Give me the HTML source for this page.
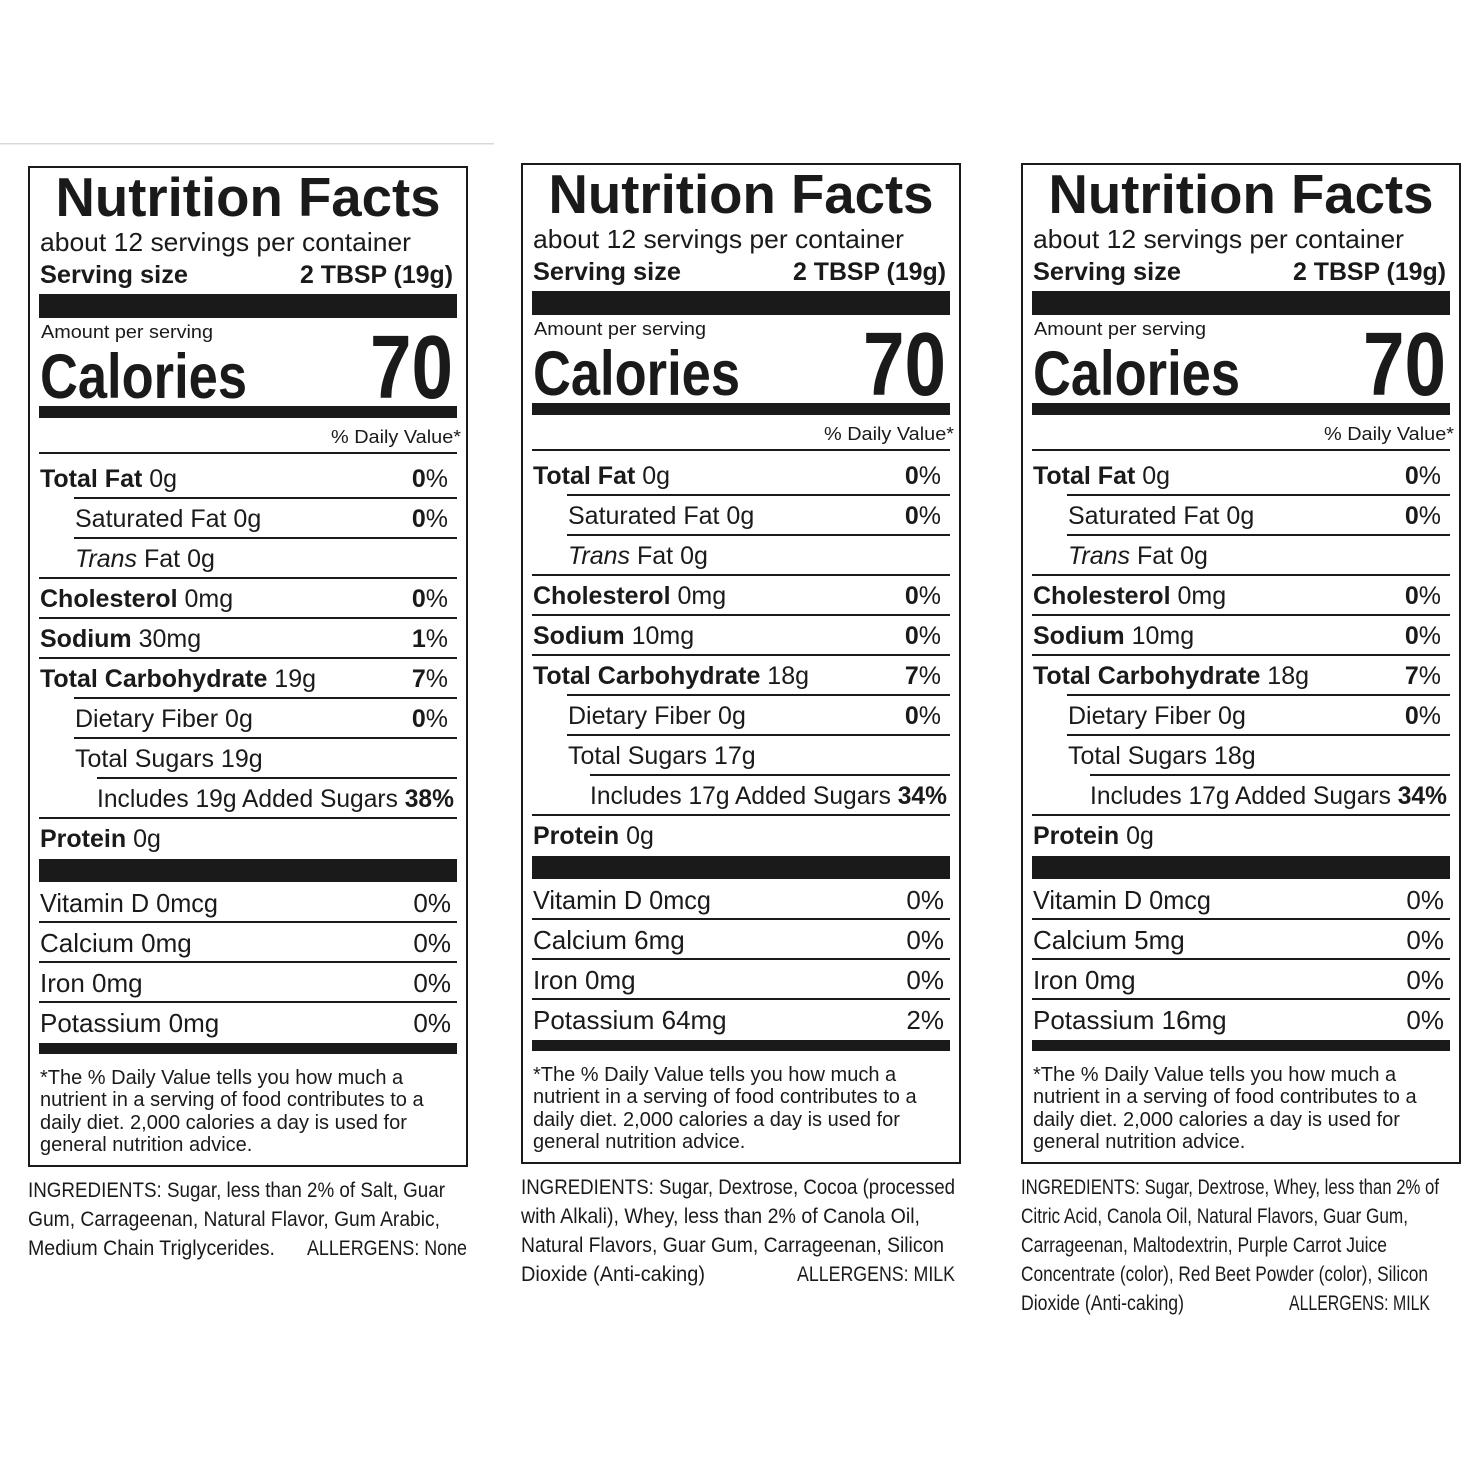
<!DOCTYPE html>
<html><head><meta charset="utf-8"><style>html,body{margin:0;padding:0;background:#fff}svg{display:block}</style></head>
<body>
<svg width="1464" height="1464" viewBox="0 0 1464 1464" xmlns="http://www.w3.org/2000/svg" font-family="Liberation Sans, Arial, sans-serif" fill="#1a1a1a">
<rect x="0" y="143" width="494" height="1.5" fill="#d8d8d8"/>
<defs>
<g id="frame">
<rect x="29" y="167" width="438" height="999" fill="none" stroke="#1a1a1a" stroke-width="2"/>
<text x="248" y="216" font-size="55" font-weight="bold" text-anchor="middle" textLength="385" lengthAdjust="spacingAndGlyphs">Nutrition Facts</text>
<text x="40" y="251" font-size="26" textLength="371" lengthAdjust="spacingAndGlyphs">about 12 servings per container</text>
<text x="40" y="283" font-size="25" font-weight="bold" textLength="148" lengthAdjust="spacingAndGlyphs">Serving size</text>
<text x="453" y="283" font-size="25" font-weight="bold" text-anchor="end" textLength="153" lengthAdjust="spacingAndGlyphs">2 TBSP (19g)</text>
<rect x="39" y="294" width="418" height="24"/>
<text x="41" y="338" font-size="18" textLength="172" lengthAdjust="spacingAndGlyphs">Amount per serving</text>
<text x="40" y="398" font-size="63" font-weight="bold" textLength="207" lengthAdjust="spacingAndGlyphs">Calories</text>
<text x="453" y="398" font-size="90" font-weight="bold" text-anchor="end" textLength="83" lengthAdjust="spacingAndGlyphs">70</text>
<rect x="39" y="406" width="418" height="12"/>
<text x="461" y="443" font-size="18" text-anchor="end" textLength="130" lengthAdjust="spacingAndGlyphs">% Daily Value*</text>
<rect x="39" y="452" width="418" height="2"/>
<rect x="74" y="497" width="383" height="2"/>
<rect x="74" y="537" width="383" height="2"/>
<rect x="39" y="577" width="418" height="2"/>
<rect x="39" y="617" width="418" height="2"/>
<rect x="39" y="657" width="418" height="2"/>
<rect x="74" y="697" width="383" height="2"/>
<rect x="74" y="737" width="383" height="2"/>
<rect x="97" y="777" width="360" height="2"/>
<rect x="39" y="817" width="418" height="2"/>
<rect x="39" y="859" width="418" height="23"/>
<rect x="39" y="921" width="418" height="2"/>
<rect x="39" y="961" width="418" height="2"/>
<rect x="39" y="1001" width="418" height="2"/>
<rect x="39" y="1043" width="418" height="11"/>
<g font-size="25">
<text x="40" y="487"><tspan font-weight="bold">Total Fat</tspan> 0g</text>
<text x="75" y="527">Saturated Fat 0g</text>
<text x="75" y="567"><tspan font-style="italic">Trans</tspan> Fat 0g</text>
<text x="40" y="607"><tspan font-weight="bold">Cholesterol</tspan> 0mg</text>
<text x="40" y="847"><tspan font-weight="bold">Protein</tspan> 0g</text>
<text x="448" y="487" text-anchor="end"><tspan font-weight="bold">0</tspan>%</text>
<text x="448" y="527" text-anchor="end"><tspan font-weight="bold">0</tspan>%</text>
<text x="448" y="607" text-anchor="end"><tspan font-weight="bold">0</tspan>%</text>
<text x="448" y="727" text-anchor="end"><tspan font-weight="bold">0</tspan>%</text>
<text x="448" y="687" text-anchor="end"><tspan font-weight="bold">7</tspan>%</text>
<text x="75" y="727">Dietary Fiber 0g</text>
</g>
<g font-size="26">
<text x="40" y="912" textLength="178" lengthAdjust="spacingAndGlyphs">Vitamin D 0mcg</text>
<text x="40" y="992">Iron 0mg</text>
<text x="451" y="912" text-anchor="end">0%</text>
<text x="451" y="952" text-anchor="end">0%</text>
<text x="451" y="992" text-anchor="end">0%</text>
</g>
<g font-size="20">
<text x="40" y="1084">*The % Daily Value tells you how much a</text>
<text x="40" y="1106">nutrient in a serving of food contributes to a</text>
<text x="40" y="1129">daily diet. 2,000 calories a day is used for</text>
<text x="40" y="1151">general nutrition advice.</text>
</g>
</g>
</defs>

<!-- Panel 1 -->
<use href="#frame"/>
<g font-size="25">
<text x="40" y="647"><tspan font-weight="bold">Sodium</tspan> 30mg</text>
<text x="448" y="647" text-anchor="end"><tspan font-weight="bold">1</tspan>%</text>
<text x="40" y="687"><tspan font-weight="bold">Total Carbohydrate</tspan> 19g</text>
<text x="75" y="767">Total Sugars 19g</text>
<text x="97" y="807" textLength="357" lengthAdjust="spacingAndGlyphs">Includes 19g Added Sugars <tspan font-weight="bold">38%</tspan></text>
</g>
<g font-size="26">
<text x="40" y="952">Calcium 0mg</text>
<text x="40" y="1032">Potassium 0mg</text>
<text x="451" y="1032" text-anchor="end">0%</text>
</g>
<g font-size="21">
<text x="28" y="1197" textLength="417" lengthAdjust="spacingAndGlyphs">INGREDIENTS: Sugar, less than 2% of Salt, Guar</text>
<text x="28" y="1226" textLength="412" lengthAdjust="spacingAndGlyphs">Gum, Carrageenan, Natural Flavor, Gum Arabic,</text>
<text x="28" y="1255" textLength="247" lengthAdjust="spacingAndGlyphs">Medium Chain Triglycerides.</text>
<text x="307" y="1255" textLength="160" lengthAdjust="spacingAndGlyphs">ALLERGENS: None</text>
</g>

<!-- Panel 2 -->
<g transform="translate(493,-3)">
<use href="#frame"/>
<g font-size="25">
<text x="40" y="647"><tspan font-weight="bold">Sodium</tspan> 10mg</text>
<text x="448" y="647" text-anchor="end"><tspan font-weight="bold">0</tspan>%</text>
<text x="40" y="687"><tspan font-weight="bold">Total Carbohydrate</tspan> 18g</text>
<text x="75" y="767">Total Sugars 17g</text>
<text x="97" y="807" textLength="357" lengthAdjust="spacingAndGlyphs">Includes 17g Added Sugars <tspan font-weight="bold">34%</tspan></text>
</g>
<g font-size="26">
<text x="40" y="952">Calcium 6mg</text>
<text x="40" y="1032">Potassium 64mg</text>
<text x="451" y="1032" text-anchor="end">2%</text>
</g>
<g font-size="21">
<text x="28" y="1197" textLength="434" lengthAdjust="spacingAndGlyphs">INGREDIENTS: Sugar, Dextrose, Cocoa (processed</text>
<text x="28" y="1226" textLength="399" lengthAdjust="spacingAndGlyphs">with Alkali), Whey, less than 2% of Canola Oil,</text>
<text x="28" y="1255" textLength="423" lengthAdjust="spacingAndGlyphs">Natural Flavors, Guar Gum, Carrageenan, Silicon</text>
<text x="28" y="1284" textLength="184" lengthAdjust="spacingAndGlyphs">Dioxide (Anti-caking)</text>
<text x="304" y="1284" textLength="158" lengthAdjust="spacingAndGlyphs">ALLERGENS: MILK</text>
</g>
</g>

<!-- Panel 3 -->
<g transform="translate(993,-3)">
<use href="#frame"/>
<g font-size="25">
<text x="40" y="647"><tspan font-weight="bold">Sodium</tspan> 10mg</text>
<text x="448" y="647" text-anchor="end"><tspan font-weight="bold">0</tspan>%</text>
<text x="40" y="687"><tspan font-weight="bold">Total Carbohydrate</tspan> 18g</text>
<text x="75" y="767">Total Sugars 18g</text>
<text x="97" y="807" textLength="357" lengthAdjust="spacingAndGlyphs">Includes 17g Added Sugars <tspan font-weight="bold">34%</tspan></text>
</g>
<g font-size="26">
<text x="40" y="952">Calcium 5mg</text>
<text x="40" y="1032">Potassium 16mg</text>
<text x="451" y="1032" text-anchor="end">0%</text>
</g>
<g font-size="21">
<text x="28" y="1197" textLength="418" lengthAdjust="spacingAndGlyphs">INGREDIENTS: Sugar, Dextrose, Whey, less than 2% of</text>
<text x="28" y="1226" textLength="387" lengthAdjust="spacingAndGlyphs">Citric Acid, Canola Oil, Natural Flavors, Guar Gum,</text>
<text x="28" y="1255" textLength="366" lengthAdjust="spacingAndGlyphs">Carrageenan, Maltodextrin, Purple Carrot Juice</text>
<text x="28" y="1284" textLength="407" lengthAdjust="spacingAndGlyphs">Concentrate (color), Red Beet Powder (color), Silicon</text>
<text x="28" y="1313" textLength="163" lengthAdjust="spacingAndGlyphs">Dioxide (Anti-caking)</text>
<text x="296" y="1313" textLength="141" lengthAdjust="spacingAndGlyphs">ALLERGENS: MILK</text>
</g>
</g>
</svg>
</body></html>
